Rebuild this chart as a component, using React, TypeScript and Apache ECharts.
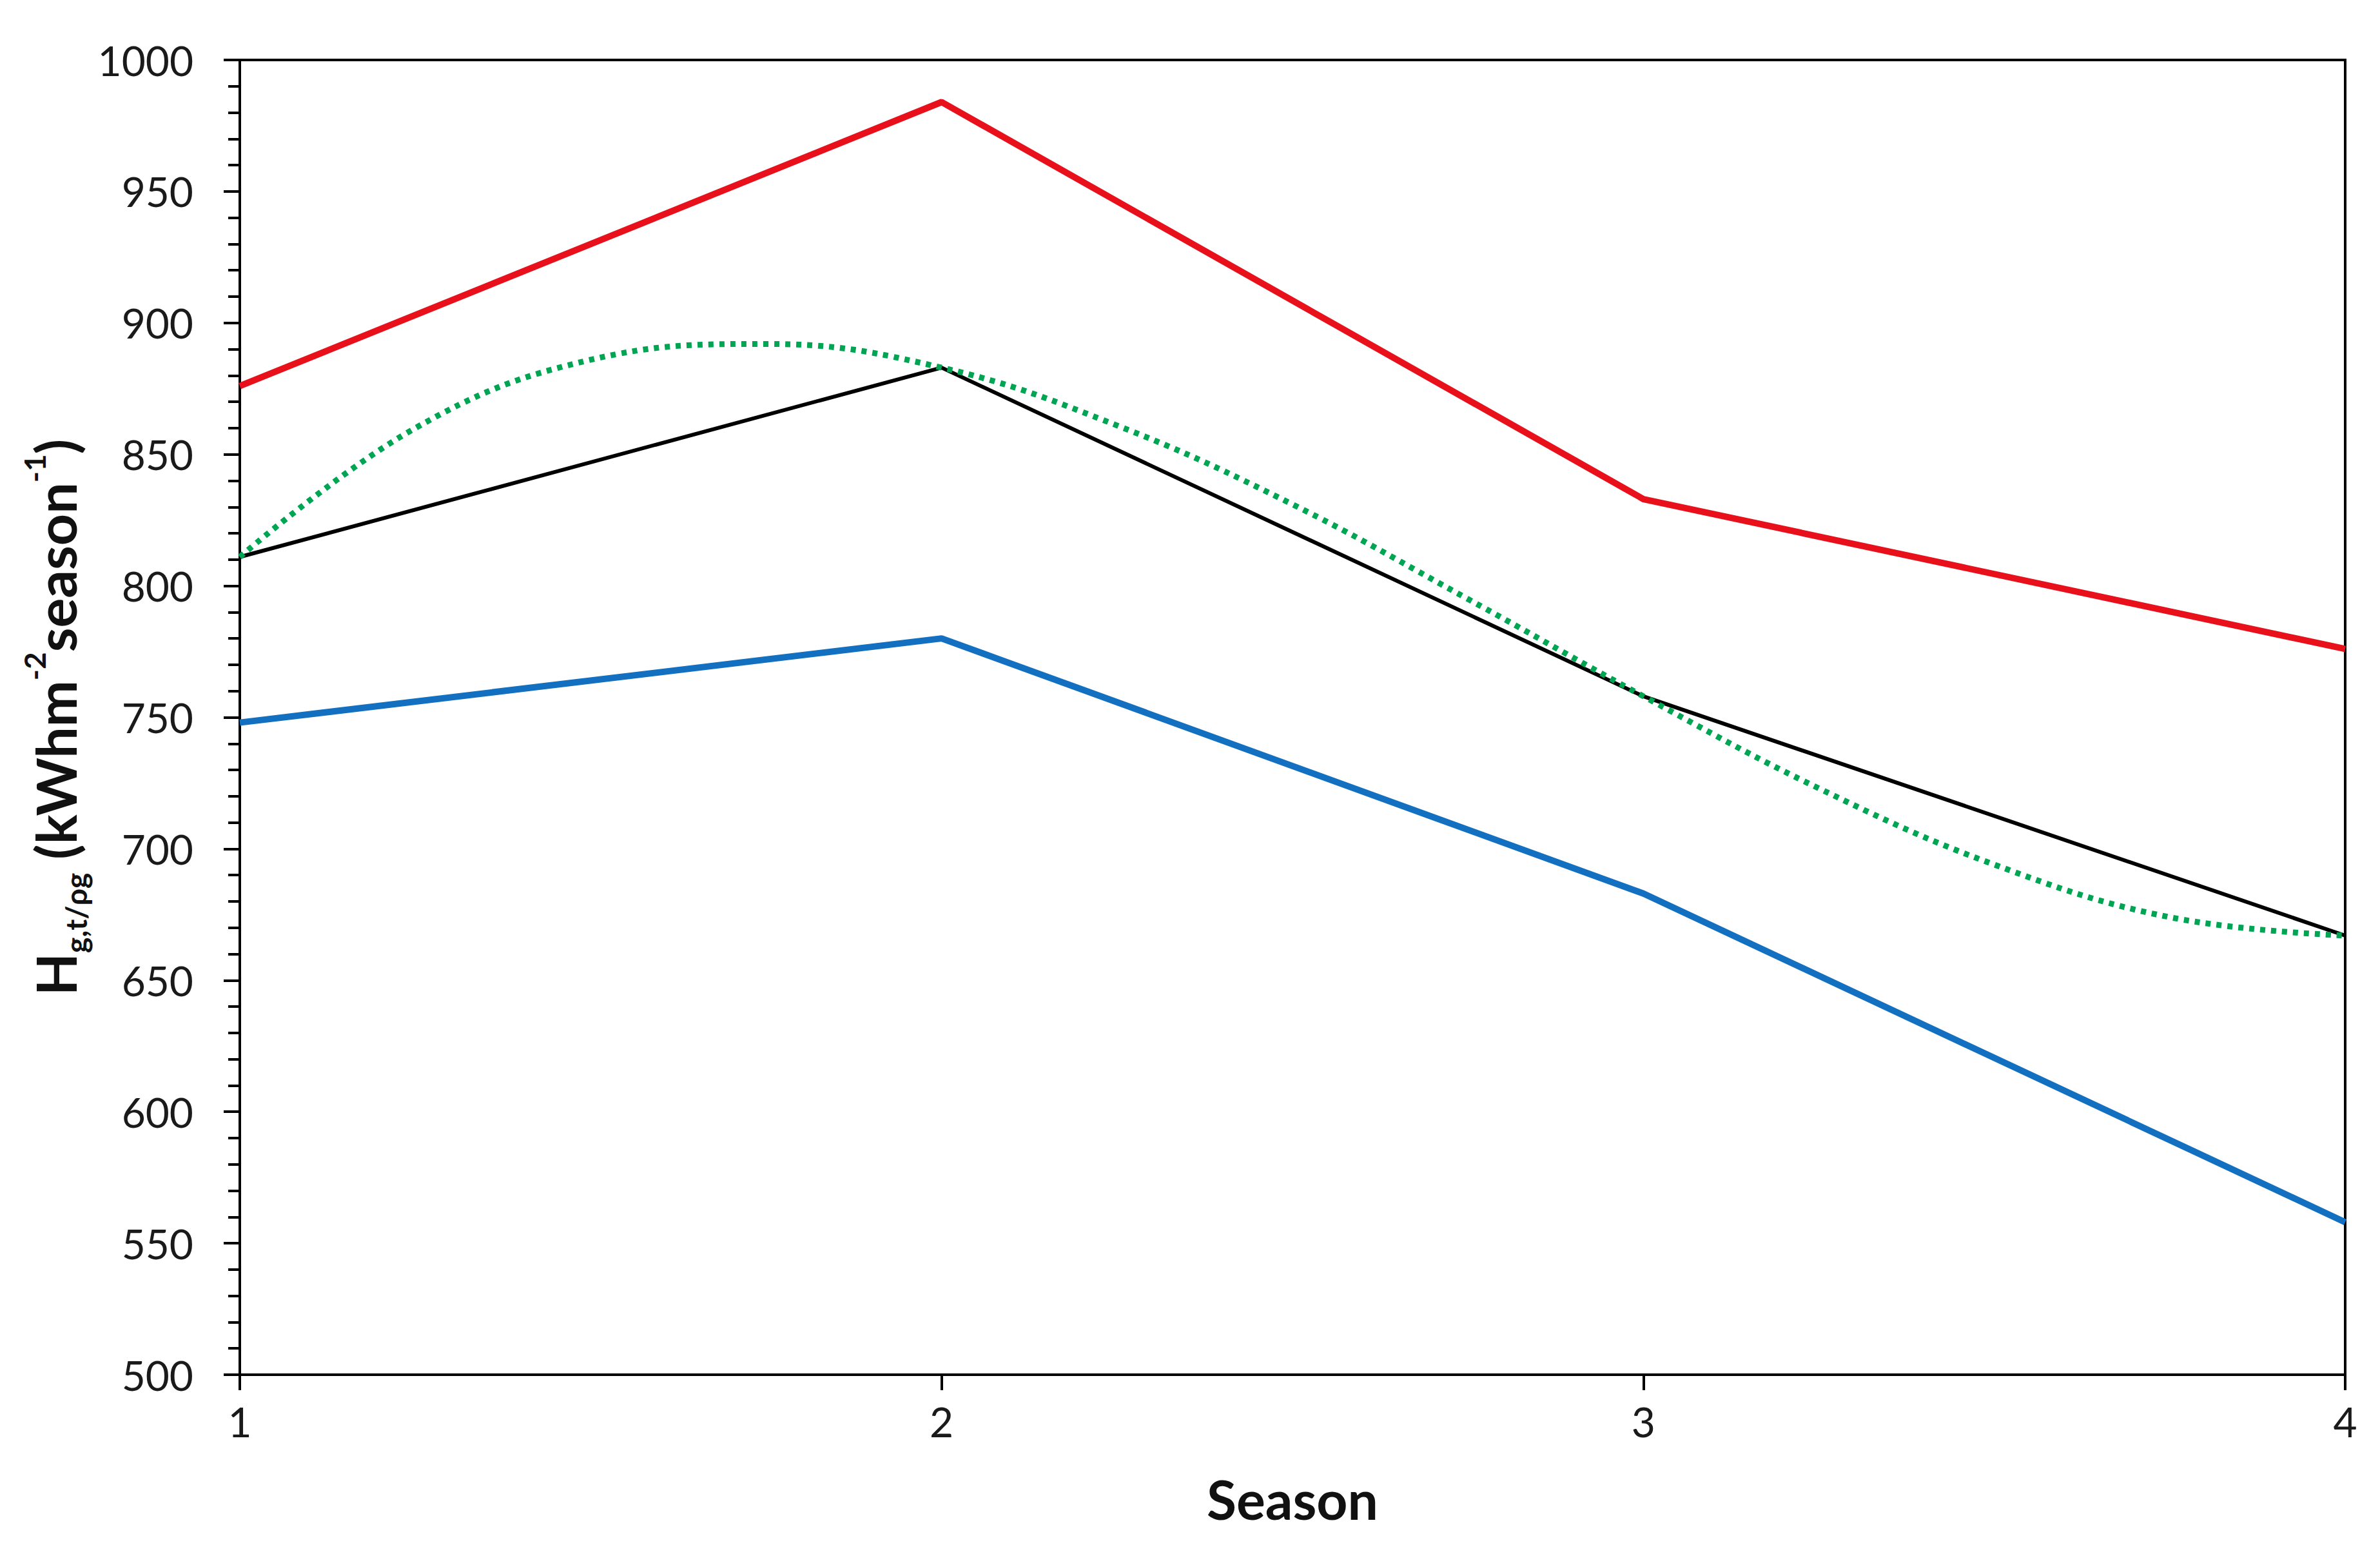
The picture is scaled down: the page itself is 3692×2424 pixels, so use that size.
import React, { useEffect, useRef } from "react";
import * as echarts from "echarts";

const seasons = [1, 2, 3, 4];
const redValues = [876, 984, 833, 776];
const blackValues = [811, 883, 758, 667];
const blueValues = [748, 780, 683, 558];
// dotted green trend curve at quarter-season steps
const greenX = [1, 1.25, 1.5, 1.75, 2, 2.25, 2.5, 2.75, 3, 3.25, 3.5, 3.75, 4];
const greenValues = [811, 860, 886, 892, 883, 861, 831, 795, 758, 723, 694, 674, 667];
const yTicks = [500, 550, 600, 650, 700, 750, 800, 850, 900, 950, 1000];
const xTicks = [1, 2, 3, 4];

const W = 3692;
const H = 2424;

export default function App() {
  const ref = useRef<HTMLDivElement>(null);
  useEffect(() => {
    document.body.style.margin = "0";
    document.body.style.overflow = "hidden";
    const chart = echarts.init(ref.current!, null, { renderer: "svg" });
    const font = "Lato, 'Open Sans', sans-serif";
    const pair = (xs: number[], ys: number[]) => xs.map((x, i) => [x, ys[i]]);
    chart.setOption({
      animation: false,
      backgroundColor: "#ffffff",
      grid: {
        left: 372,
        right: 54,
        top: 93,
        bottom: 292,
        show: true,
        borderColor: "#000",
        borderWidth: 4,
        backgroundColor: "transparent",
      },
      xAxis: {
        type: "value",
        min: xTicks[0],
        max: xTicks[xTicks.length - 1],
        interval: 1,
        name: "Season",
        nameLocation: "middle",
        nameGap: 150,
        nameTextStyle: { fontFamily: font, fontWeight: "bold", fontSize: 84, color: "#111" },
        axisLine: { show: true, lineStyle: { color: "#000", width: 4 } },
        axisTick: { show: true, length: 24, lineStyle: { color: "#000", width: 4 } },
        axisLabel: { margin: 40, fontFamily: font, fontSize: 64, color: "#1a1a1a", formatter: (v: number) => String(v) },
        splitLine: { show: false },
      },
      yAxis: {
        type: "value",
        min: yTicks[0],
        max: yTicks[yTicks.length - 1],
        interval: 50,
        name: "{main|H}{sub|g,t/ρg}{main| (kWhm}{sup|-2}{main|season}{sup|-1}{main|)}",
        nameLocation: "middle",
        nameRotate: 90,
        nameGap: 208,
        nameTextStyle: {
          rich: {
            main: { fontFamily: font, fontWeight: "bold", fontSize: 86, color: "#111", lineHeight: 110, verticalAlign: "middle" },
            sub: { fontFamily: font, fontWeight: "bold", fontSize: 46, color: "#111", lineHeight: 110, verticalAlign: "bottom" },
            sup: { fontFamily: font, fontWeight: "bold", fontSize: 46, color: "#111", lineHeight: 110, verticalAlign: "top" },
          },
        },
        axisLine: { show: true, lineStyle: { color: "#000", width: 4 } },
        axisTick: { show: true, length: 25, lineStyle: { color: "#000", width: 4 } },
        minorTick: { show: true, splitNumber: 5, length: 18, lineStyle: { color: "#000", width: 4 } },
        axisLabel: { margin: 72, fontFamily: font, fontSize: 64, color: "#1a1a1a", formatter: (v: number) => String(v) },
        splitLine: { show: false },
        minorSplitLine: { show: false },
      },
      series: [
        {
          type: "line",
          data: pair(seasons, redValues),
          symbol: "none",
          lineStyle: { color: "#E8101A", width: 10 },
          z: 3,
        },
        {
          type: "line",
          data: pair(seasons, blueValues),
          symbol: "none",
          lineStyle: { color: "#1370C0", width: 10 },
          z: 3,
        },
        {
          type: "line",
          data: pair(seasons, blackValues),
          symbol: "none",
          lineStyle: { color: "#000", width: 6 },
          z: 4,
        },
        {
          type: "line",
          data: pair(greenX, greenValues),
          symbol: "none",
          smooth: 0.4,
          lineStyle: { color: "#00A553", width: 9, type: [8, 9] },
          z: 5,
        },
      ],
    });
    return () => chart.dispose();
  }, []);
  return <div ref={ref} style={{ width: W, height: H }} />;
}
